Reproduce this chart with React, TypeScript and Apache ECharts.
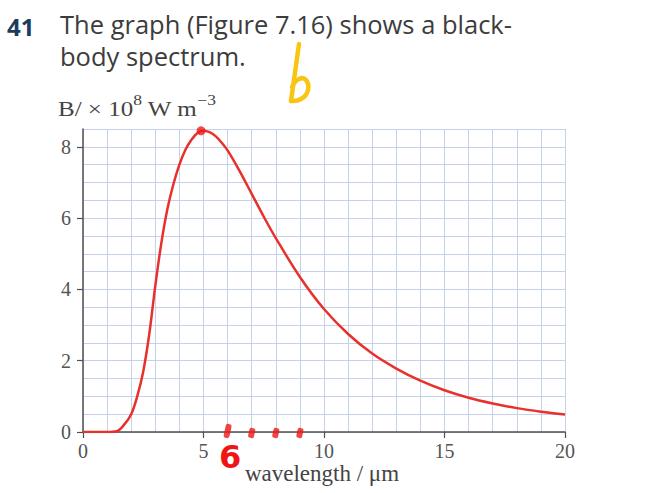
import React, { useEffect, useRef } from "react";
import * as echarts from "echarts";

// wavelength (µm) and spectral radiance (×10^8 W m^-3)
const wavelengths = [0, 0.5, 1, 1.4, 1.7, 2, 2.25, 2.5, 2.75, 3, 3.25, 3.5, 3.75, 4, 4.25, 4.5, 4.75, 5, 5.25, 5.5, 5.75, 6, 6.5, 7, 7.5, 8, 9, 10, 11, 12, 13, 14, 15, 16, 17, 18, 19, 20];
const radiance = [0, 0, 0, 0.02, 0.2, 0.5, 1.0, 1.7, 2.75, 4.1, 5.3, 6.25, 6.95, 7.5, 7.92, 8.2, 8.39, 8.45, 8.41, 8.3, 8.12, 7.9, 7.32, 6.68, 6.04, 5.44, 4.35, 3.45, 2.75, 2.2, 1.78, 1.44, 1.17, 0.96, 0.8, 0.67, 0.57, 0.49];

const peakPoint = [4.9, 8.45];
const handMarksX = [6, 7, 8, 9];

const xTicks = [0, 5, 10, 15, 20];
const yTicks = [0, 2, 4, 6, 8];

const titleNumber = "41";
const titleLine1 = "The graph (Figure 7.16) shows a black-";
const titleLine2 = "body spectrum.";
const xName = "wavelength / μm";

export default function App() {
  const ref = useRef<HTMLDivElement>(null);
  useEffect(() => {
    if (!ref.current) return;
    const chart = echarts.init(ref.current, undefined, { renderer: "svg" });
    const serif = "Liberation Serif";
    const axisColor = "#505050";
    const gridColor = "#c6d2ec";
    const red = "#e8302c";
    chart.setOption({
      animation: false,
      backgroundColor: "#ffffff",
      grid: { left: 83, top: 129, width: 482, height: 303, containLabel: false },
      xAxis: [
        {
          type: "value",
          min: 0,
          max: 20,
          interval: 5,
          z: 3,
          axisLine: { show: true, lineStyle: { color: axisColor, width: 1.5 } },
          axisTick: { show: true, length: 6, lineStyle: { color: axisColor, width: 1.2 }, customValues: xTicks },
          axisLabel: { fontFamily: serif, fontSize: 20, color: "#555", margin: 9, customValues: xTicks },
          splitLine: { show: false },
        },
        {
          type: "value",
          min: 0,
          max: 20,
          interval: 1,
          position: "bottom",
          z: 1,
          axisLine: { show: false },
          axisTick: { show: false },
          axisLabel: { show: false },
          splitLine: { show: true, lineStyle: { color: gridColor, width: 1 } },
        },
      ],
      yAxis: [
        {
          type: "value",
          min: 0,
          max: 8.5,
          interval: 0.5,
          z: 3,
          axisLine: { show: true, lineStyle: { color: axisColor, width: 1.5 } },
          axisTick: { show: true, length: 6, lineStyle: { color: axisColor, width: 1.2 }, customValues: yTicks },
          axisLabel: { fontFamily: serif, fontSize: 20, color: "#555", margin: 12, customValues: yTicks },
          splitLine: { show: false },
        },
        {
          type: "value",
          min: 0,
          max: 8.5,
          interval: 0.5,
          position: "left",
          z: 1,
          axisLine: { show: false },
          axisTick: { show: false },
          axisLabel: { show: false },
          splitLine: { show: true, lineStyle: { color: gridColor, width: 1 } },
        },
      ],
      series: [
        {
          type: "line",
          xAxisIndex: 0,
          yAxisIndex: 0,
          data: wavelengths.map((w, i) => [w, radiance[i]]),
          smooth: 0.35,
          showSymbol: false,
          lineStyle: { color: red, width: 2.5 },
          z: 5,
        },
        {
          type: "scatter",
          xAxisIndex: 0,
          yAxisIndex: 0,
          data: [peakPoint],
          symbol: "circle",
          symbolSize: 9,
          itemStyle: { color: "#ef1a1a" },
          z: 6,
        },
        {
          type: "scatter",
          xAxisIndex: 0,
          yAxisIndex: 0,
          data: handMarksX.map((v, i) => ({
            value: [v, 0],
            symbolSize: i === 0 ? [6, 14] : [6, 10],
            symbolOffset: i === 0 ? [0, -1] : [0, 1],
          })),
          symbol: "roundRect",
          symbolRotate: -12,
          itemStyle: { color: "#f01515" },
          z: 6,
        },
      ],
      graphic: [
        {
          type: "text",
          left: 7,
          top: 14,
          style: { text: titleNumber, font: "bold 24px 'Open Sans'", fill: "#1d3b5e" },
        },
        {
          type: "text",
          left: 60,
          top: 11,
          style: { text: titleLine1, font: "25.5px 'Open Sans'", fill: "#3c3c3c" },
        },
        {
          type: "text",
          left: 60,
          top: 43,
          style: { text: titleLine2, font: "25.5px 'Open Sans'", fill: "#3c3c3c" },
        },
        {
          type: "text",
          x: 58,
          y: 106,
          scaleX: 1.25,
          style: {
            text: "{a|B/ × 10}{s|8}{a| W m}{s|−3}",
            verticalAlign: "middle",
            rich: {
              a: { fontFamily: serif, fontSize: 20, fill: "#444", lineHeight: 26, verticalAlign: "bottom" },
              s: { fontFamily: serif, fontSize: 14, fill: "#444", lineHeight: 26, verticalAlign: "top" },
            },
          },
        },
        {
          type: "text",
          x: 322,
          y: 473,
          style: { text: xName, fontFamily: serif, fontSize: 23, fill: "#444", align: "center", verticalAlign: "middle" },
        },
        {
          type: "line",
          shape: { x1: 299, y1: 44, x2: 291, y2: 101 },
          style: { stroke: "#f9c513", lineWidth: 4.5, lineCap: "round" },
        },
        {
          type: "polyline",
          shape: { points: [[292, 87], [299, 79], [306, 80], [308, 90], [301, 99], [291, 101]], smooth: 0.5 },
          style: { stroke: "#f9c513", lineWidth: 4.5, fill: "none", lineCap: "round", lineJoin: "round" },
        },
        {
          type: "text",
          x: 219,
          y: 441,
          style: { text: "6", font: "bold 32px 'DejaVu Sans'", fill: "#f01515" },
        },
      ],
    });
    return () => chart.dispose();
  }, []);
  return <div ref={ref} style={{ width: 646, height: 493, position: "absolute", left: 0, top: 0 }} />;
}
